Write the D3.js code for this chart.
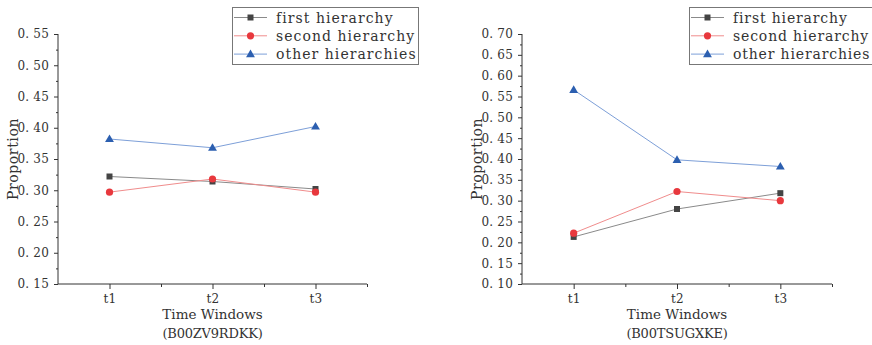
<!DOCTYPE html>
<html><head><meta charset="utf-8">
<script src="https://cdn.jsdelivr.net/npm/d3@7"></script>
<style>
body{margin:0;background:#fff;}
</style></head>
<body><svg id="c" width="872" height="345"></svg>
<script>
const categories = ["t1","t2","t3"];
const seriesNames = ["first hierarchy","second hierarchy","other hierarchies"];
// Left panel (B00ZV9RDKK)
const leftFirst  = [0.322, 0.314, 0.302];
const leftSecond = [0.297, 0.318, 0.297];
const leftOther  = [0.382, 0.368, 0.402];
const leftTicks  = [0.15,0.20,0.25,0.30,0.35,0.40,0.45,0.50,0.55];
// Right panel (B00TSUGXKE)
const rightFirst  = [0.213, 0.280, 0.318];
const rightSecond = [0.222, 0.322, 0.300];
const rightOther  = [0.566, 0.398, 0.382];
const rightTicks  = [0.10,0.15,0.20,0.25,0.30,0.35,0.40,0.45,0.50,0.55,0.60,0.65,0.70];

const FONT = '"DejaVu Serif", "Liberation Serif", serif';
const svg = d3.select("#c");
const lineCol = ["#8a8a8a","#f08c8c","#7d9fd8"];
const markCol = ["#444444","#e8383d","#2c5fb0"];
const fmt = v => "0. " + d3.format(".2f")(v).split(".")[1];

function txt(sel){ return sel.attr("font-family",FONT).style("font-family",FONT).attr("fill","#333"); }

function panel(cfg){
  const g = svg.append("g");
  const x = d3.scaleLinear().domain([0.5,3.5]).range([cfg.x0,cfg.x1]);
  const y = d3.scaleLinear().domain([cfg.ticks[0],cfg.ticks[cfg.ticks.length-1]]).range([284,34]);
  const ya = g.append("g").attr("transform",`translate(${cfg.x0},0)`)
    .call(d3.axisLeft(y).tickValues(cfg.ticks).tickSize(4).tickPadding(5).tickFormat(fmt));
  const minorY = cfg.ticks.slice(0,-1).map(t=>t+0.025);
  g.append("g").attr("transform",`translate(${cfg.x0},0)`)
    .call(d3.axisLeft(y).tickValues(minorY).tickSize(2).tickFormat(""))
    .select(".domain").remove();
  const xa = g.append("g").attr("transform",`translate(0,284)`)
    .call(d3.axisBottom(x).tickValues([1,2,3]).tickSize(5).tickPadding(5).tickFormat((d,i)=>categories[i]));
  g.append("g").attr("transform",`translate(0,284)`)
    .call(d3.axisBottom(x).tickValues([1.5,2.5,3.5]).tickSize(3).tickFormat(""))
    .select(".domain").remove();
  ya.select(".domain").attr("d",`M0,284V34`).attr("stroke","#333");
  xa.select(".domain").attr("d",`M${cfg.x0},0H${cfg.x1}`).attr("stroke","#333");
  g.selectAll(".tick line").attr("stroke","#333");
  txt(g.selectAll(".tick text")).attr("font-size","12px").attr("letter-spacing","0.2px");
  const cx = (x(1)+x(3))/2;
  txt(g.append("text")).attr("x",cx).attr("y",319).attr("text-anchor","middle")
    .attr("font-size","13.5px").attr("letter-spacing","0px").text("Time Windows");
  txt(g.append("text")).attr("x",cx).attr("y",338).attr("text-anchor","middle")
    .attr("font-size","13px").attr("letter-spacing","-0.2px").text(cfg.sub);
  txt(g.append("text")).attr("transform",`translate(${cfg.x0-40},159) rotate(-90)`).attr("text-anchor","middle")
    .attr("font-size","14px").attr("letter-spacing","0.6px").text("Proportion");
  const line = d3.line().x((d,i)=>x(i+1)).y(d=>y(d));
  cfg.series.forEach((s,k)=>{
    g.append("path").attr("d",line(s)).attr("fill","none").attr("stroke",lineCol[k]).attr("stroke-width",1);
  });
  cfg.series.forEach((s,k)=>{
    s.forEach((v,i)=>drawMarker(g,k,x(i+1),y(v)));
  });
  const lg = g.append("g");
  lg.append("rect").attr("x",cfg.lx+0.5).attr("y",7.5).attr("width",cfg.lw).attr("height",57)
    .attr("fill","#fff").attr("stroke","#777").attr("stroke-width",1);
  seriesNames.forEach((n,k)=>{
    const yy = 17.5 + k*18.3;
    lg.append("line").attr("x1",cfg.lx+2).attr("x2",cfg.lx+35).attr("y1",yy).attr("y2",yy)
      .attr("stroke",lineCol[k]).attr("stroke-width",1);
    drawMarker(lg,k,cfg.lx+18.5,yy);
    txt(lg.append("text")).attr("x",cfg.lx+44).attr("y",yy+5).attr("font-size","14px")
      .attr("letter-spacing",cfg.ls).text(n);
  });
}
function drawMarker(g,k,cx,cy){
  if(k===0){
    g.append("rect").attr("x",cx-3).attr("y",cy-3).attr("width",6).attr("height",6).attr("fill",markCol[0]);
  } else if(k===1){
    g.append("circle").attr("cx",cx).attr("cy",cy).attr("r",3.6).attr("fill",markCol[1]);
  } else {
    g.append("path").attr("d",d3.symbol(d3.symbolTriangle,34)()).attr("transform",`translate(${cx},${cy+0.5})`).attr("fill",markCol[2]);
  }
}
panel({x0:58,x1:367,ticks:leftTicks,series:[leftFirst,leftSecond,leftOther],sub:"(B00ZV9RDKK)",lx:232,lw:186,ls:"1.05px"});
panel({x0:522,x1:832,ticks:rightTicks,series:[rightFirst,rightSecond,rightOther],sub:"(B00TSUGXKE)",lx:689,lw:190,ls:"0.85px"});
</script></body></html>
